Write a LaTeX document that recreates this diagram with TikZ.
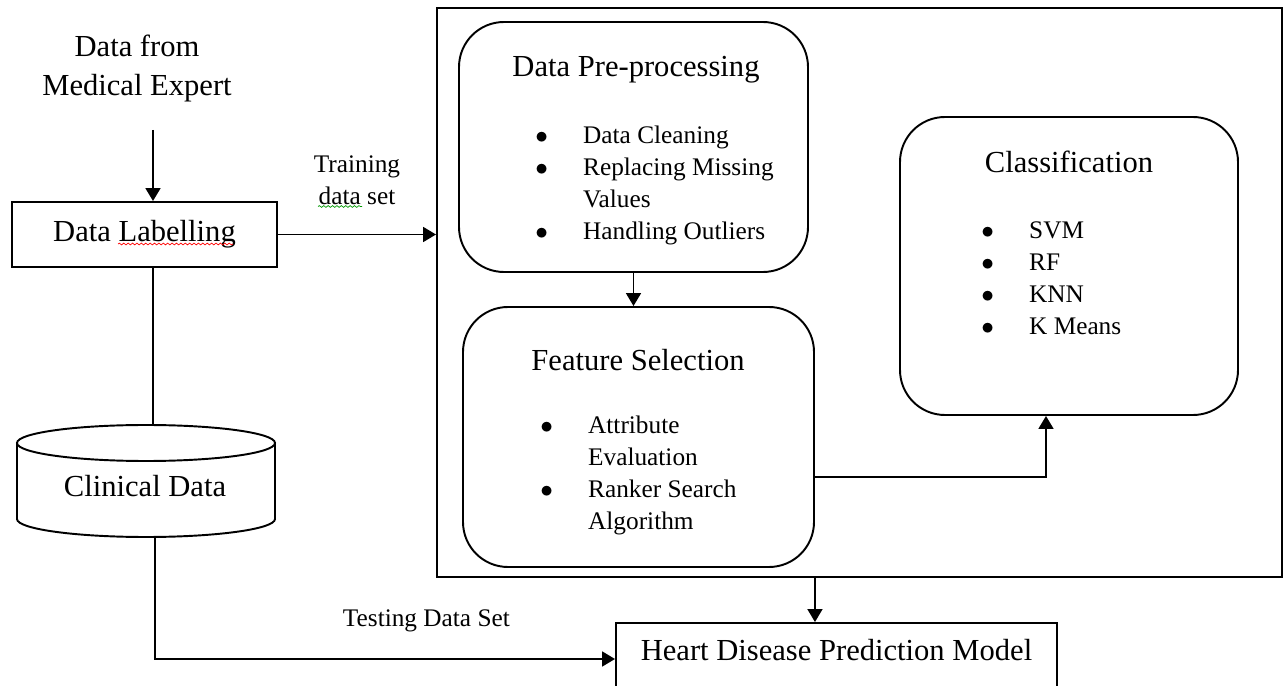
\documentclass[tikz,border=0pt]{standalone}
\usepackage{fontspec}
\setmainfont{Liberation Serif}
\usetikzlibrary{arrows.meta,decorations.pathmorphing}

\tikzset{
	>={Triangle[length=0.26cm,width=0.3cm]},
	bigfont/.style={font=\fontsize{17.4}{22}\selectfont},
	smallfont/.style={font=\fontsize{14.4}{18.2}\selectfont},
	plainbox/.style={draw, line width=1.1pt, inner sep=0pt},
	roundbox/.style={draw, line width=1.1pt, rounded corners=0.9cm, inner sep=0pt},
	wavy/.style={line width=0.4pt, decorate, decoration={snake, amplitude=0.5pt, segment length=2.5pt}},
}

\begin{document}
\begin{tikzpicture}[line width=1pt]
	
	\useasboundingbox (0,0) rectangle (25.68,-13.72);
	
	% the system
	\node[plainbox, minimum width=16.9cm, minimum height=11.38cm] (sys) at (17.19,-5.85) {};
	\node[roundbox, minimum width=6.98cm, minimum height=5cm] (pre) at (12.67,-2.94) {};
	\node[roundbox, minimum width=7.02cm, minimum height=5.2cm] (fs) at (12.77,-8.74) {};
	\node[roundbox, minimum width=6.76cm, minimum height=5.96cm] (cls) at (21.38,-5.32) {};
	
	\node[bigfont] (pretitle) at (12.72,-1.4) {Data Pre-processing};
	\node[bigfont] (fstitle) at (12.76,-7.2) {Feature Selection};
	\node[bigfont] (clstitle) at (21.38,-3.24) {Classification};
	
	\node[smallfont, anchor=west, inner sep=0pt] (prelist) at (10.69,-3.7) {\begin{tabular}{@{}l@{\hspace{20pt}}l@{}}
			$\bullet$ & Data Cleaning\\
			$\bullet$ & Replacing Missing\\
			& Values\\
			$\bullet$ & Handling Outliers
	\end{tabular}};
	\node[smallfont, anchor=west, inner sep=0pt] (fslist) at (10.79,-9.5) {\begin{tabular}{@{}l@{\hspace{20pt}}l@{}}
			$\bullet$ & Attribute\\
			& Evaluation\\
			$\bullet$ & Ranker Search\\
			& Algorithm
	\end{tabular}};
	\node[smallfont, anchor=west, inner sep=0pt] (clslist) at (19.61,-5.6) {\begin{tabular}{@{}l@{\hspace{20pt}}l@{}}
			$\bullet$ & SVM\\
			$\bullet$ & RF\\
			$\bullet$ & KNN\\
			$\bullet$ & K Means
	\end{tabular}};
	
	% left side
	\node[bigfont, align=center] (expert) at (2.74,-1.37) {Data from\\Medical Expert};
	\node[plainbox, bigfont, minimum width=5.3cm, minimum height=1.3cm] (lab) at (2.89,-4.69) {Data Labelling};
	\node[plainbox, bigfont, minimum width=8.82cm, minimum height=1.44cm, text height=0.42cm, text depth=0.37cm] (heart) at (16.73,-13.18) {Heart Disease Prediction Model};
	
	% database
	\draw[line width=1.1pt] (0.34,-8.86) -- (0.34,-10.38) arc[start angle=180, end angle=360, x radius=2.58cm, y radius=0.36cm] -- (5.5,-8.86);
	\draw[line width=1.1pt] (2.92,-8.86) ellipse [x radius=2.58cm, y radius=0.36cm];
	\node[bigfont] (db) at (2.9,-9.72) {Clinical Data};
	\coordinate (dbtop) at (2.92,-8.5);
	\coordinate (dbbot) at (2.92,-10.74);
	
	\coordinate (src) at (3.06,-2.6);
	\coordinate (tst) at (3.1,-13.24);
	\coordinate (turn) at (20.92,-9.54);
	
	\draw[->] (src) -- (src |- lab.north);
	\draw (lab.south -| src) -- (dbtop -| src);
	\draw[->] (lab.east) -- node[smallfont, above=0.47cm, align=center] (train) {Training\\data set} (lab.east -| sys.west);
	\draw[->] (pre.south) -- (pre.south |- fs.north);
	\draw[->] (fs.east |- turn) -| (cls.south -| turn);
	\draw[->] (sys.south -| fs.east) -- (heart.north -| fs.east);
	\draw[->] (dbbot -| tst) |- node[pos=0.795, above=0.41cm, smallfont] (test) {Testing Data Set} (heart.west);
	
	\draw[wavy, red] (2.36,-4.88) -- (4.66,-4.88);
	\draw[wavy, green!60!black] (6.36,-4.13) -- (7.24,-4.13);
	
\end{tikzpicture}
\end{document}
